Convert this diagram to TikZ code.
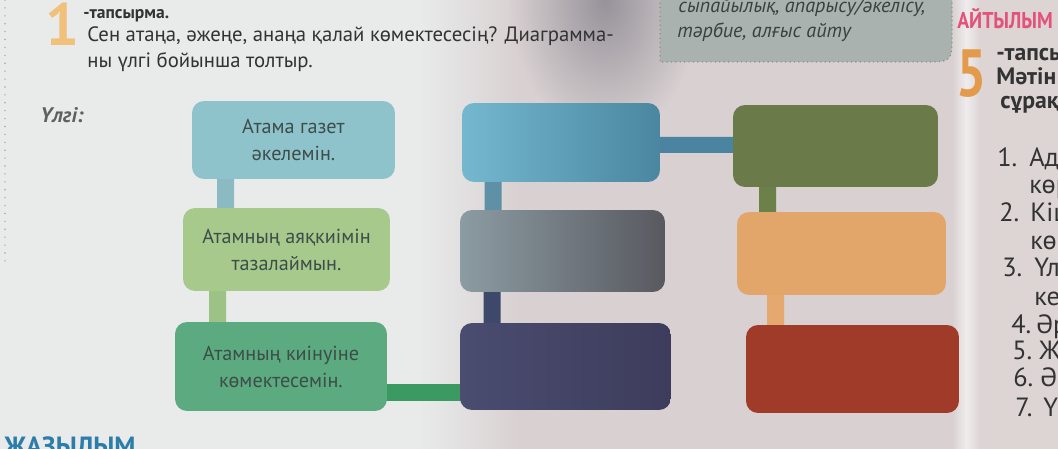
\documentclass[tikz,border=0pt]{standalone}
\usepackage{fontspec}
\setmainfont{PT Sans}
\usetikzlibrary{calc}
\pgfdeclarelayer{back}
\pgfdeclarelayer{conn}
\pgfsetlayers{back,conn,main}
\definecolor{bgL}{HTML}{E8EBEA}
\definecolor{bgP}{HTML}{D8D0D1}
\definecolor{bgR}{HTML}{DDD4D4}
\definecolor{shadowc}{HTML}{96929A}
\definecolor{greybox}{HTML}{A9B2AF}
\definecolor{greydot}{HTML}{7D8583}
\definecolor{cA1}{HTML}{8EC3CC}
\definecolor{cA2}{HTML}{A7C98B}
\definecolor{cA3}{HTML}{5CAA80}
\definecolor{cAA}{HTML}{8BBAC2}
\definecolor{cAB}{HTML}{9DC285}
\definecolor{cA3B3}{HTML}{3B9A62}
\definecolor{cB1l}{HTML}{74B8CF}
\definecolor{cB1r}{HTML}{4A86A0}
\definecolor{cB2l}{HTML}{8C9CA3}
\definecolor{cB2r}{HTML}{58595F}
\definecolor{cB3l}{HTML}{4A4C70}
\definecolor{cB3r}{HTML}{3D3C5C}
\definecolor{cB12}{HTML}{5F90A5}
\definecolor{cB23}{HTML}{3E486A}
\definecolor{cB1C1}{HTML}{4A84A0}
\definecolor{cC1}{HTML}{6A7A48}
\definecolor{cC12}{HTML}{6C8049}
\definecolor{cC2}{HTML}{E2A66B}
\definecolor{cC23}{HTML}{E5A86F}
\definecolor{cC3}{HTML}{A03B2A}
\definecolor{boxtext}{HTML}{3D4D4A}
\definecolor{headtext}{HTML}{333333}
\definecolor{pinkc}{HTML}{E2527A}
\definecolor{orange5}{HTML}{E39A4A}
\definecolor{orange1}{HTML}{F1C07A}
\definecolor{bluec}{HTML}{2C7DAA}
\definecolor{ulgic}{HTML}{5E6060}
\definecolor{greytext}{HTML}{3B3F3F}
\begin{document}
\begin{tikzpicture}[x=0.02cm,y=-0.02cm,
  box/.style={rounded corners=0.24cm, inner sep=0pt, align=center, text=boxtext,
    font=\fontsize{11.5}{15.3}\selectfont},
  conn/.style={line width=0.34cm},
  lbl/.style={inner sep=0pt, anchor=base west, text=headtext},
  listf/.style={lbl, font=\fontsize{15}{17}\selectfont},
  rhead/.style={lbl, font=\bfseries\fontsize{13.5}{15}\selectfont}]
\useasboundingbox (0,0) rectangle (1058,449);
\clip (0,0) rectangle (1058,449);
% background
\begin{pgfonlayer}{back}
\fill[bgL] (0,0) rectangle (1058,449);
\shade[left color=bgL, right color=bgP] (420,0) rectangle (520,449);
\fill[bgP] (520,-1) rectangle (1058,450);
\shade[inner color=shadowc, outer color=bgP] (605,0) ellipse [x radius=95, y radius=140];
\shade[left color=bgP, right color=white!60!bgP] (952,0) rectangle (966,449);
\shade[left color=white!60!bgP, right color=bgR] (966,0) rectangle (980,449);
\fill[bgR] (980,-1) rectangle (1059,450);
% left dotted margin
\draw[greydot!70, line width=0.9pt, line cap=round, dash pattern=on 0pt off 4.5pt] (5,0) -- (5,262);
% top grey box
\fill[greybox] (660,-10) -- (660,62) -- (924,62) .. controls (952,62) .. (952,34) -- (952,-10) -- cycle;
\draw[greydot, line width=0.8pt, line cap=round, dash pattern=on 0pt off 2.5pt] (660,-10) -- (660,62) -- (924,62) .. controls (952,62) .. (952,34) -- (952,-10);
\end{pgfonlayer}

% boxes
\node[box, fill=cA1, minimum width=4.06cm, minimum height=1.56cm] (A1) at (293.5,140) {Атама газет\\әкелемін.};
\node[box, fill=cA2, minimum width=4.14cm, minimum height=1.66cm] (A2) at (286.5,249.5) {Атамның аяқкиімін\\тазалаймын.};
\node[box, fill=cA3, minimum width=4.24cm, minimum height=1.78cm] (A3) at (281,366.5) {Атамның киінуіне\\көмектесемін.};
\node[box, left color=cB1l, right color=cB1r, minimum width=3.96cm, minimum height=1.58cm] (B1) at (561,142.5) {};
\node[box, left color=cB2l, right color=cB2r, minimum width=4.10cm, minimum height=1.64cm] (B2) at (562.5,251) {};
\node[box, left color=cB3l, right color=cB3r, minimum width=4.22cm, minimum height=1.74cm] (B3) at (565.5,366.5) {};
\node[box, fill=cC1, minimum width=4.10cm, minimum height=1.64cm] (C1) at (835.5,146) {};
\node[box, fill=cC2, minimum width=4.18cm, minimum height=1.66cm] (C2) at (841.5,253.5) {};
\node[box, fill=cC3, minimum width=4.26cm, minimum height=1.76cm] (C3) at (852.5,369) {};

% connectors
\begin{pgfonlayer}{conn}
\draw[conn, cAA] ($(A1.south west)+(34,-10)$) -- ($(A2.north west)+(43,10)$);
\draw[conn, cAB] ($(A2.south west)+(35,-10)$) -- ($(A3.north west)+(43,10)$);
\draw[conn, cA3B3] ($(A3.east)+(-12,26)$) -- ($(B3.west)+(12,26)$);
\draw[conn, cB12] ($(B1.south west)+(31.5,-10)$) -- ($(B2.north west)+(33.5,10)$);
\draw[conn, cB23] ($(B2.south west)+(32.5,-10)$) -- ($(B3.north west)+(32.5,10)$);
\draw[conn, cB1C1, line width=0.32cm] ($(B1.east)+(-12,2.5)$) -- ($(C1.west)+(12,-1)$);
\draw[conn, cC12] ($(C1.south west)+(35,-10)$) -- ($(C2.north west)+(31,10)$);
\draw[conn, cC23] ($(C2.south west)+(39,-10)$) -- ($(C3.north west)+(30,10)$);
\end{pgfonlayer}

% heading
\node[lbl, text=orange1, font=\bfseries\fontsize{34}{34}\selectfont] (n1) at (45,46) {1};
\node[lbl, font=\bfseries\fontsize{10}{12}\selectfont] (t1) at (83,19) {-тапсырма.};
\node[lbl, font=\fontsize{11.8}{14}\selectfont] (h1) at (87,42) {Сен атаңа, әжеңе, анаңа қалай көмектесесің? Диаграмма-};
\node[lbl, font=\fontsize{11.8}{14}\selectfont] (h2) at (87,68) {ны үлгі бойынша толтыр.};
\node[lbl, text=ulgic, font=\bfseries\itshape\fontsize{12}{14}\selectfont] (ulgi) at (40,123) {Үлгі:};

% grey box text
\node[lbl, text=greytext, font=\itshape\fontsize{11.5}{14}\selectfont] (g1) at (678,13) {сыпайылық, апарысу/әкелісу,};
\node[lbl, text=greytext, font=\itshape\fontsize{11.5}{14}\selectfont] (g2) at (677,38) {тәрбие, алғыс айту};

% right page
\node[lbl, text=pinkc, font=\bfseries\fontsize{13}{14}\selectfont, xscale=0.86] (ayt) at (957,29) {АЙТЫЛЫМ};
\node[lbl, text=orange5, font=\bfseries\fontsize{38}{38}\selectfont, xscale=0.8] (n5) at (956,97) {5};
\node[rhead] (t5) at (996,61) {-тапсырма};
\node[rhead] (m5) at (996,85) {Мәтін};
\node[rhead] (s5) at (1000,109) {сұрақта};
\node[listf] (l1) at (997,166.5) {1.};
\node[listf] (l1t) at (1029,166.5) {Адам};
\node[listf] (l1b) at (1029,193.5) {көр};
\node[listf] (l2) at (999,221.5) {2.};
\node[listf] (l2t) at (1030,221.5) {Кіші};
\node[listf] (l2b) at (1030,249.5) {көм};
\node[listf] (l3) at (1002,276.5) {3.};
\node[listf] (l3t) at (1034,276.5) {Үлк};
\node[listf] (l3b) at (1034,305.5) {кел};
\node[listf] (l4) at (1011,333.5) {4.};
\node[listf] (l4t) at (1036,333.5) {Әр};
\node[listf] (l5) at (1012,359.5) {5.};
\node[listf] (l5t) at (1039,359.5) {Жа};
\node[listf] (l6) at (1013,386.5) {6.};
\node[listf] (l6t) at (1040,386.5) {Әр};
\node[listf] (l7) at (1015,416.5) {7.};
\node[listf] (l7t) at (1043,416.5) {Үй};

% bottom
\node[lbl, text=bluec, font=\bfseries\fontsize{15}{15}\selectfont] (jaz) at (4,455) {ЖАЗЫЛЫМ};
\end{tikzpicture}
\end{document}
